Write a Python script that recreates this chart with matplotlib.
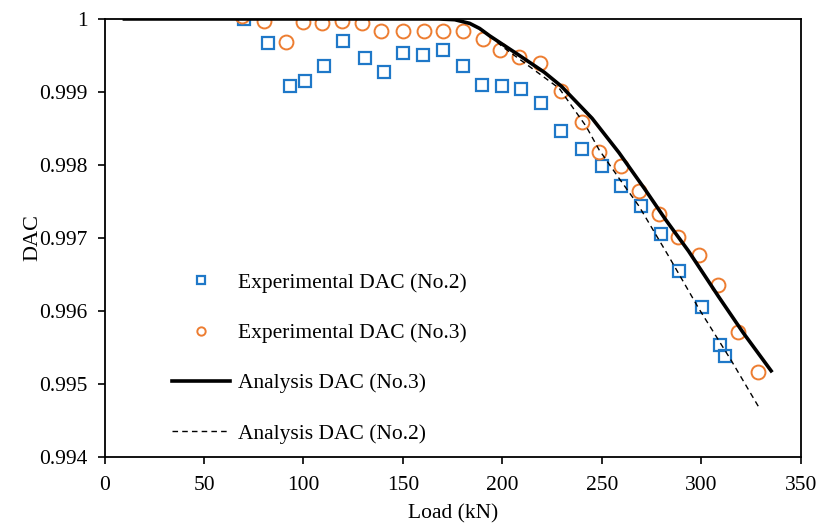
import numpy as np
import matplotlib.pyplot as plt

plt.rcParams['font.family'] = ['Liberation Serif', 'DejaVu Serif']

# experimental DAC, specimen No.2
load_exp2 = [70, 82, 93, 101, 110.5, 120, 131, 140.5, 150, 160, 170, 180, 189.5, 200, 209.5,
             219.5, 229.5, 240, 250, 259.5, 269.5, 279.5, 288.5, 300.5, 309.5, 312]
dac_exp2 = [1.0, 0.99967, 0.99908, 0.99915, 0.99935, 0.9997, 0.99946, 0.99928, 0.99954, 0.99951,
            0.99958, 0.99935, 0.9991, 0.99908, 0.99904, 0.99885, 0.99847, 0.99822, 0.99799,
            0.99771, 0.99744, 0.99706, 0.99655, 0.99605, 0.99554, 0.99539]

# experimental DAC, specimen No.3
load_exp3 = [69, 80, 91, 99.5, 109.5, 119.5, 129.5, 139, 150, 160.5, 170, 180, 190, 198.5, 208.5,
             219, 229.5, 240, 248.5, 259.5, 268.5, 278.5, 288, 298.5, 308.5, 318.5, 328.5]
dac_exp3 = [1.00004, 0.99997, 0.99969, 0.99996, 0.99995, 0.99997, 0.99995, 0.99984, 0.99984,
            0.99984, 0.99984, 0.99984, 0.99972, 0.99957, 0.99948, 0.99939, 0.99901, 0.99859,
            0.99818, 0.99798, 0.99765, 0.99733, 0.99701, 0.99677, 0.99636, 0.99571, 0.99516]

# analysis curves
load_an3 = [10, 168, 176, 183.5, 188.5, 193.5, 208.5, 221, 229.5, 245, 258.5, 271.5, 282, 293.5,
            308.5, 321, 335]
dac_an3 = [1.0, 1.0, 0.99999, 0.99994, 0.99987, 0.99977, 0.9995, 0.99927, 0.99908, 0.99864,
           0.99817, 0.99767, 0.99725, 0.99682, 0.9962, 0.9957, 0.99518]

load_an2 = [10, 168, 176, 183.5, 190, 200, 210, 217.5, 228.5, 242, 248.5, 258.5, 268.5, 283.5,
            298.5, 315, 329.5]
dac_an2 = [1.0, 1.0, 0.99999, 0.99994, 0.99985, 0.99962, 0.99942, 0.99927, 0.99905, 0.99853,
           0.99821, 0.99782, 0.99744, 0.99675, 0.99604, 0.99532, 0.99465]

fig = plt.figure(figsize=(8.19, 5.24), dpi=100)
ax = fig.add_axes([0.1276, 0.1279, 0.8504, 0.8359])

ax.plot(load_exp2, dac_exp2, 's', ms=9, mfc='none', mec='#1F78C8', mew=1.6,
        label='Experimental DAC (No.2)', zorder=3)
ax.plot(load_exp3, dac_exp3, 'o', ms=10, mfc='none', mec='#ED7D31', mew=1.4,
        label='Experimental DAC (No.3)', zorder=3)
ax.plot(load_an3, dac_an3, '-', color='black', lw=2.6, label='Analysis DAC (No.3)', zorder=4)
ax.plot(load_an2, dac_an2, '--', color='black', lw=1.0, dashes=(4, 3),
        label='Analysis DAC (No.2)', zorder=4)

ax.set_xlim(0, 350)
ax.set_ylim(0.994, 1.0)
ax.set_xticks(np.arange(0, 351, 50))
ax.set_yticks([0.994, 0.995, 0.996, 0.997, 0.998, 0.999, 1.0])
ax.set_yticklabels(['0.994', '0.995', '0.996', '0.997', '0.998', '0.999', '1'])
ax.tick_params(direction='out', length=5, width=1.2, labelsize=15.5, colors='black')
ax.tick_params(axis='y', pad=7)
ax.tick_params(axis='x', pad=9)
for s in ax.spines.values():
    s.set_linewidth(1.3)
    s.set_color('black')

ax.set_xlabel('Load (kN)', fontsize=15.5, labelpad=6)
ax.set_ylabel('DAC', fontsize=16, labelpad=-2)

ax.legend(loc='upper left', bbox_to_anchor=(0.085, 0.44), frameon=False, fontsize=15.5,
          labelspacing=1.4, handlelength=2.7, handletextpad=0.35, markerscale=0.6,
          borderaxespad=0.0)

fig.savefig('out.png', dpi=100)
